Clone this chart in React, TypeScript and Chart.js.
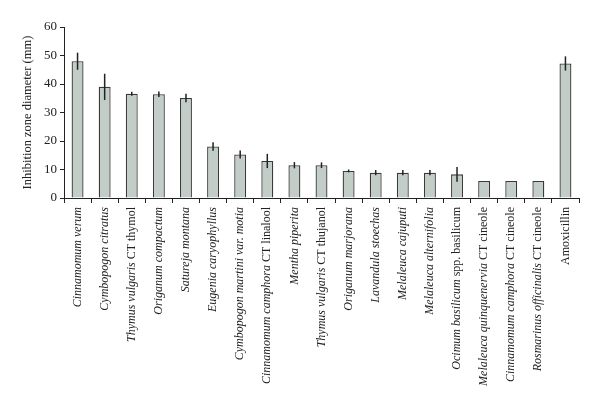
import React, { useEffect, useRef } from "react";
import { Chart, registerables } from "chart.js";

Chart.register(...registerables);

// label parts: [italic part, upright part]
const labelItalic = [
  "Cinnamomum verum",
  "Cymbopogon citratus",
  "Thymus vulgaris",
  "Origanum compactum",
  "Satureja montana",
  "Eugenia caryophyllus",
  "Cymbopogon martini var. motia",
  "Cinnamomum camphora",
  "Mentha piperita",
  "Thymus vulgaris",
  "Origanum marjorana",
  "Lavandula stoechas",
  "Melaleuca cajuputi",
  "Melaleuca alternifolia",
  "Ocimum basilicum",
  "Melaleuca quinquenervia",
  "Cinnamomum camphora",
  "Rosmarinus officinalis",
  "",
];
const labelUpright = [
  "",
  "",
  " CT thymol",
  "",
  "",
  "",
  "",
  " CT linalool",
  "",
  " CT thujanol",
  "",
  "",
  "",
  "",
  " spp. basilicum",
  " CT cineole",
  " CT cineole",
  " CT cineole",
  "Amoxicillin",
];
const categories = labelItalic.map((it, i) => it + labelUpright[i]);

const values = [48, 39, 36.6, 36.4, 35.1, 18.1, 15.3, 13, 11.5, 11.5, 9.5, 8.9, 8.9, 8.9, 8.3, 6, 6, 6, 47.2];
const errors = [3, 4.6, 0.7, 1, 1.5, 1.5, 1.4, 2.5, 1.1, 1, 0.5, 0.9, 0.9, 0.9, 2.6, 0, 0, 0, 2.5];

const yTicks = [0, 10, 20, 30, 40, 50, 60];
const yTitle = "Inhibition zone diameter (mm)";

const FONT = "'Liberation Serif', 'DejaVu Serif', serif";

const errorBarPlugin = {
  id: "errorBars",
  afterDatasetsDraw(chart: any) {
    const { ctx, scales } = chart;
    const xs = scales.x;
    const ys = scales.y;
    ctx.save();
    ctx.strokeStyle = "#222";
    ctx.lineWidth = 1.5;
    values.forEach((v, i) => {
      const e = errors[i];
      if (!e) return;
      const x = xs.getPixelForValue(i);
      ctx.beginPath();
      ctx.moveTo(x, ys.getPixelForValue(v + e));
      ctx.lineTo(x, ys.getPixelForValue(v - e));
      ctx.stroke();
    });
    ctx.restore();
  },
};

const labelPlugin = {
  id: "mixedLabels",
  afterDraw(chart: any) {
    const { ctx, scales } = chart;
    const xs = scales.x;
    const top = xs.top + 9;
    ctx.save();
    ctx.fillStyle = "#222";
    ctx.textBaseline = "middle";
    ctx.textAlign = "left";
    categories.forEach((_, i) => {
      const x = xs.getPixelForValue(i);
      ctx.save();
      ctx.translate(x, top);
      ctx.rotate(-Math.PI / 2);
      ctx.font = `italic 12px ${FONT}`;
      const wi = ctx.measureText(labelItalic[i]).width;
      ctx.font = `12px ${FONT}`;
      const wu = ctx.measureText(labelUpright[i]).width;
      let pos = -(wi + wu);
      ctx.font = `italic 12px ${FONT}`;
      ctx.fillText(labelItalic[i], pos, 0);
      pos += wi;
      ctx.font = `12px ${FONT}`;
      ctx.fillText(labelUpright[i], pos, 0);
      ctx.restore();
    });
    ctx.restore();
  },
};

export default function App() {
  const ref = useRef<HTMLCanvasElement>(null);
  useEffect(() => {
    if (!ref.current) return;
    const chart = new Chart(ref.current, {
      type: "bar",
      data: {
        labels: categories,
        datasets: [
          {
            data: values,
            backgroundColor: "#c3cdc8",
            borderColor: "#3a3a3a",
            borderWidth: 1.3,
            barPercentage: 0.44,
            categoryPercentage: 1,
          },
        ],
      },
      options: {
        animation: false,
        responsive: false,
        maintainAspectRatio: false,
        layout: { padding: { top: 27, right: 21, left: 0, bottom: 0 } },
        plugins: { legend: { display: false }, tooltip: { enabled: false } },
        scales: {
          x: {
            offset: true,
            grid: {
              display: true,
              offset: true,
              drawOnChartArea: false,
              drawTicks: true,
              tickLength: 5,
              color: "#222",
              tickWidth: 1,
            },
            border: { display: true, color: "#222", width: 1 },
            ticks: {
              color: "rgba(0,0,0,0)",
              autoSkip: false,
              maxRotation: 90,
              minRotation: 90,
              font: { family: FONT, size: 12 },
            },
            afterFit(scale: any) {
              scale.height = 209;
            },
          },
          y: {
            min: 0,
            max: 60,
            afterBuildTicks(scale: any) {
              scale.ticks = yTicks.map((v) => ({ value: v }));
            },
            grid: {
              display: true,
              drawOnChartArea: false,
              drawTicks: true,
              tickLength: 4,
              color: "#222",
            },
            border: { display: true, color: "#222", width: 1 },
            ticks: {
              color: "#222",
              padding: 3,
              font: { family: FONT, size: 13 },
            },
            title: {
              display: true,
              text: yTitle,
              color: "#222",
              font: { family: FONT, size: 12.5 },
              padding: { top: 20, bottom: 0 },
            },
            afterFit(scale: any) {
              scale.width = 64;
            },
          },
        },
      },
      plugins: [errorBarPlugin, labelPlugin],
    } as any);
    return () => chart.destroy();
  }, []);
  return (
    <div style={{ position: "fixed", left: 0, top: 0, width: 600, height: 407, background: "#fff" }}>
      <canvas ref={ref} width={600} height={407} style={{ width: 600, height: 407 }} />
    </div>
  );
}
